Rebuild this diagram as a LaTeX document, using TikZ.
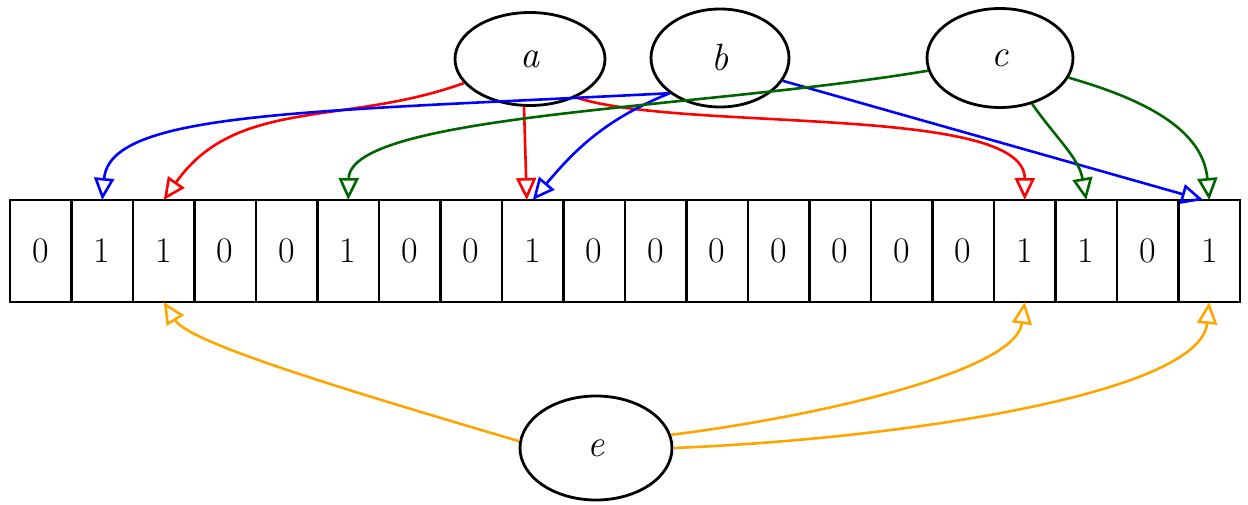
\documentclass[tikz,border=0pt]{standalone}
\usepackage{xcolor}
\usepackage{tikz}
\usetikzlibrary{shapes.geometric,arrows.meta,positioning}

\definecolor{darkgreen}{RGB}{0,100,0}
\definecolor{hashorange}{RGB}{255,165,0}

\begin{document}
\begin{tikzpicture}
      [ x=0.5pt, y=0.5pt, node distance=0pt,
        bit/.style={draw, line width=1.4pt, minimum width=30.75pt, minimum height=51pt,
                    inner sep=0pt, outer sep=0pt, font=\fontsize{18}{20}\selectfont},
        var/.style={ellipse, draw, line width=1.4pt, inner sep=0pt,
                    font=\fontsize{19}{21}\selectfont\itshape},
        hash/.style={line width=1.3pt, -{Triangle[open, length=11pt, width=10pt]}}
      ]
      \useasboundingbox (0,0) rectangle (1248,504);

      % the bit array
      \node[bit]  (c0)  at (40.75,253)    {0};
      \node[bit]  (c1)  [right=of c0]     {1};
      \node[bit]  (c2)  [right=of c1]     {1};
      \node[bit]  (c3)  [right=of c2]     {0};
      \node[bit]  (c4)  [right=of c3]     {0};
      \node[bit]  (c5)  [right=of c4]     {1};
      \node[bit]  (c6)  [right=of c5]     {0};
      \node[bit]  (c7)  [right=of c6]     {0};
      \node[bit]  (c8)  [right=of c7]     {1};
      \node[bit]  (c9)  [right=of c8]     {0};
      \node[bit]  (c10) [right=of c9]     {0};
      \node[bit]  (c11) [right=of c10]    {0};
      \node[bit]  (c12) [right=of c11]    {0};
      \node[bit]  (c13) [right=of c12]    {0};
      \node[bit]  (c14) [right=of c13]    {0};
      \node[bit]  (c15) [right=of c14]    {0};
      \node[bit]  (c16) [right=of c15]    {1};
      \node[bit]  (c17) [right=of c16]    {1};
      \node[bit]  (c18) [right=of c17]    {0};
      \node[bit]  (c19) [right=of c18]    {1};

      % the elements
      \node[var, minimum width=75pt, minimum height=46.5pt] (a) at (530,445)  {a};
      \node[var, minimum width=69pt, minimum height=49pt]   (b) at (720,446)  {b};
      \node[var, minimum width=73pt, minimum height=49.5pt] (c) at (1000,446) {c};
      \node[var, minimum width=76pt, minimum height=52pt]   (e) at (596,56)   {e};

      % hashes of a
      \path[hash, red] (a) edge [out=200, in=55] (c2.north)
                       ([xshift=-3pt]a.south) edge ([xshift=-3pt]c8.north);
      \draw[hash, red] (a.-40) .. controls (680,372) and (1025,400) .. (c16.north);

      % hashes of b
      \draw[hash, blue] (b.-145) .. controls (300,392) and (110,392) .. (c1.north);
      \draw[hash, blue] (b.-145) to [out=-158, in=50] (c8.north);
      \path[hash, blue] (b.-20) edge ([xshift=-3pt]c19.north);

      % hashes of c
      \draw[hash, darkgreen] (c.190) .. controls (700,395) and (350,390) .. (c5.north);
      \path[hash, darkgreen] (c) edge [out=-55, in=100] (c17.north)
                             (c) edge [out=-16, in=95]  (c19.north);

      % hashes of e
      \draw[hash, hashorange] (e.175) .. controls (360,110) and (190,160) .. (c2.south);
      \draw[hash, hashorange] (e.10) .. controls (800,85) and (1015,130) .. (c16.south);
      \draw[hash, hashorange] (e.0) .. controls (900,65) and (1200,110) .. (c19.south);

\end{tikzpicture}
\end{document}
